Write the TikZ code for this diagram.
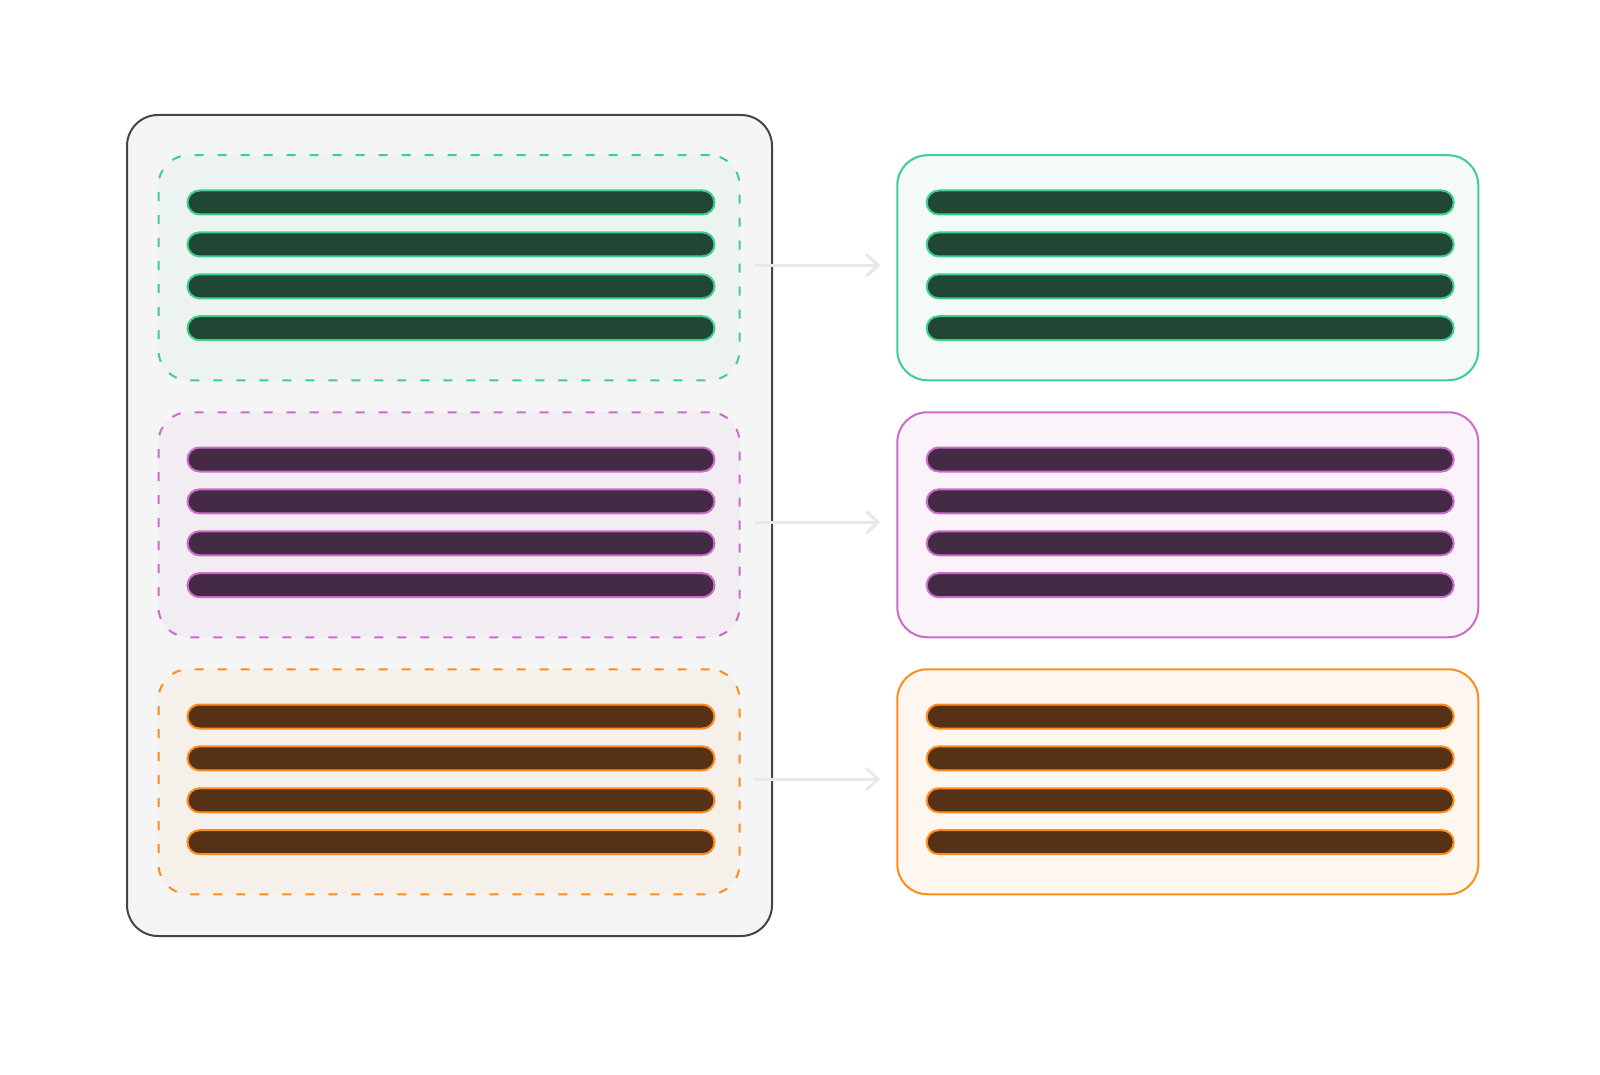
\documentclass[tikz,border=0pt]{standalone}
\usetikzlibrary{arrows.meta}
\definecolor{gS}{HTML}{3ECF8E}\definecolor{gD}{HTML}{214634}\definecolor{gA}{HTML}{ECF3F0}\definecolor{gB}{HTML}{F3FAF7}
\definecolor{pS}{HTML}{CC6BCC}\definecolor{pD}{HTML}{452A46}\definecolor{pA}{HTML}{F2ECF3}\definecolor{pB}{HTML}{FAF4FA}
\definecolor{oS}{HTML}{FF8C1A}\definecolor{oD}{HTML}{553216}\definecolor{oA}{HTML}{F5F0EA}\definecolor{oB}{HTML}{FEF7F0}
\definecolor{outerF}{HTML}{F5F5F5}\definecolor{outerS}{HTML}{444444}\definecolor{arrowC}{HTML}{E8E8E8}
\tikzset{
  outerbox/.style={draw=outerS, fill=outerF, line width=1pt, rounded corners=15.5pt, minimum width=322.5pt, minimum height=410.5pt, inner sep=0pt, outer sep=0pt},
  groupbox/.style={line width=1pt, rounded corners=15pt, minimum width=290.5pt, minimum height=112.5pt, inner sep=0pt, outer sep=0pt},
  srcbox/.style={groupbox, dash pattern=on 4.5pt off 7pt},
  dstbox/.style={groupbox, line width=1pt},
  barbox/.style={line width=1pt, rounded corners=6pt, minimum width=263.5pt, minimum height=12pt, inner sep=0pt, outer sep=0pt},
  flow/.style={draw=arrowC, line width=1.5pt, -{Straight Barb[length=6pt,width=11pt,line width=1.5pt]}, shorten <=7.5pt, shorten >=8.5pt}
}
\begin{document}
\begin{tikzpicture}[x=0.5pt,y=-0.5pt]
\useasboundingbox (0,0) rectangle (1600,1075);
\node[outerbox] (outer) at (449.5,525.5) {};
\foreach \i/\c in {0/g,1/p,2/o}{
  \pgfmathsetmacro{\T}{155+257*\i}
  \node[srcbox, draw=\c S, fill=\c A] (src\i) at (449,\T+112.75) {};
  \node[dstbox, draw=\c S, fill=\c B] (dst\i) at (1187.8,\T+112.75) {};
  \foreach \k in {0,1,2,3}{
    \node[barbox, draw=\c S, fill=\c D] (sb\i\k) at (451,\T+47.5+41.9*\k) {};
    \node[barbox, draw=\c S, fill=\c D] (db\i\k) at (1190.2,\T+47.5+41.9*\k) {};
  }
  \draw[flow] ([yshift=1.25pt]src\i.east) -- ([yshift=1.25pt]dst\i.west);
}
\end{tikzpicture}
\end{document}
